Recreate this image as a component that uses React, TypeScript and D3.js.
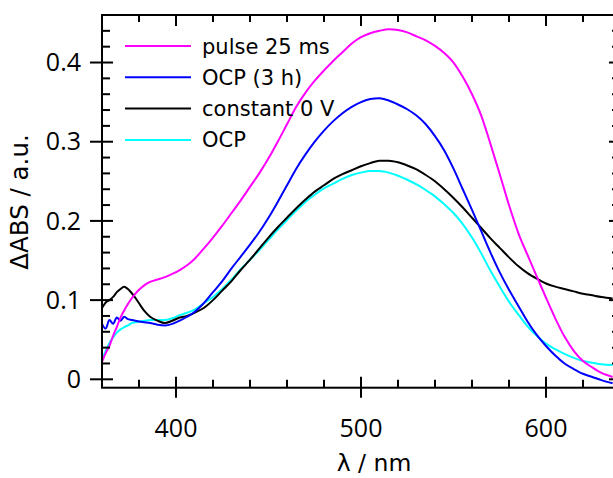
import React, { useEffect, useRef } from "react"
import * as d3 from "d3"

// wavelength grid in nm
const wavelength = [360, 362, 364, 366, 368, 370, 372, 374, 376, 378, 380, 383, 386, 390, 394, 398, 402, 406, 410, 415, 420, 425, 430, 435, 440, 445, 450, 455, 460, 465, 470, 475, 480, 485, 490, 495, 500, 505, 510, 515, 520, 525, 530, 535, 540, 545, 550, 555, 560, 565, 570, 575, 580, 585, 590, 595, 600, 605, 610, 615, 620, 625, 630, 636]

const pulse25 = [0.022, 0.033, 0.042, 0.055, 0.066, 0.078, 0.087, 0.095, 0.102, 0.108, 0.113, 0.119, 0.123, 0.126, 0.129, 0.133, 0.138, 0.144, 0.152, 0.165, 0.179, 0.194, 0.21, 0.226, 0.243, 0.26, 0.279, 0.3, 0.322, 0.344, 0.362, 0.377, 0.39, 0.402, 0.413, 0.424, 0.432, 0.437, 0.44, 0.442, 0.441, 0.438, 0.433, 0.428, 0.421, 0.412, 0.4, 0.382, 0.36, 0.333, 0.297, 0.259, 0.22, 0.185, 0.157, 0.13, 0.103, 0.077, 0.054, 0.036, 0.023, 0.015, 0.008, 0.003]

const ocp3h = [0.07, 0.064, 0.075, 0.07, 0.078, 0.074, 0.079, 0.076, 0.075, 0.074, 0.073, 0.072, 0.071, 0.069, 0.068, 0.07, 0.074, 0.079, 0.085, 0.096, 0.11, 0.124, 0.14, 0.155, 0.17, 0.186, 0.204, 0.224, 0.245, 0.266, 0.284, 0.3, 0.314, 0.326, 0.336, 0.344, 0.35, 0.354, 0.355, 0.352, 0.347, 0.341, 0.333, 0.322, 0.307, 0.289, 0.266, 0.24, 0.214, 0.187, 0.16, 0.135, 0.113, 0.093, 0.073, 0.056, 0.042, 0.03, 0.02, 0.013, 0.007, 0.003, -0.001, -0.005]

const constant0V = [0.09, 0.097, 0.1, 0.104, 0.11, 0.114, 0.117, 0.114, 0.109, 0.103, 0.096, 0.086, 0.079, 0.074, 0.071, 0.074, 0.078, 0.08, 0.084, 0.09, 0.1, 0.112, 0.124, 0.138, 0.151, 0.165, 0.179, 0.192, 0.204, 0.216, 0.227, 0.237, 0.245, 0.253, 0.259, 0.264, 0.269, 0.273, 0.276, 0.276, 0.274, 0.27, 0.265, 0.258, 0.25, 0.24, 0.229, 0.217, 0.204, 0.191, 0.178, 0.166, 0.154, 0.143, 0.134, 0.127, 0.121, 0.117, 0.114, 0.111, 0.108, 0.106, 0.104, 0.102]

const ocp = [0.025, 0.036, 0.046, 0.053, 0.059, 0.063, 0.066, 0.068, 0.071, 0.072, 0.073, 0.074, 0.075, 0.075, 0.075, 0.077, 0.081, 0.084, 0.088, 0.096, 0.104, 0.114, 0.126, 0.139, 0.151, 0.163, 0.176, 0.189, 0.201, 0.213, 0.224, 0.233, 0.241, 0.247, 0.253, 0.258, 0.261, 0.263, 0.263, 0.261, 0.257, 0.252, 0.246, 0.239, 0.231, 0.221, 0.21, 0.196, 0.179, 0.159, 0.137, 0.117, 0.098, 0.082, 0.067, 0.055, 0.045, 0.038, 0.032, 0.027, 0.023, 0.021, 0.019, 0.018]

const seriesNames = ["pulse 25 ms", "OCP (3 h)", "constant 0 V", "OCP"]
const seriesValues = [pulse25, ocp3h, constant0V, ocp]
const seriesColors = ["#ff00ff", "#0000ff", "#000000", "#00ffff"]

const xTicks = [400, 500, 600]
const yTicks = [0, 0.1, 0.2, 0.3, 0.4]

const W = 613
const H = 478
const TICKFONT = "'Open Sans', 'DejaVu Sans', sans-serif"
const FONT = "'DejaVu Sans', sans-serif"

export default function App() {
  const ref = useRef<SVGSVGElement>(null)

  useEffect(() => {
    const svg = d3.select(ref.current)
    svg.selectAll("*").remove()

    const left = 102, right = 620, top = 15, bottom = 387.7
    const x = d3.scaleLinear().domain([360, 640]).range([left, right])
    const y = d3.scaleLinear().domain([-0.0106, 0.46]).range([bottom, top])

    svg.append("defs").append("clipPath").attr("id", "plot")
      .append("rect").attr("x", left).attr("y", top)
      .attr("width", right - left).attr("height", bottom - top)

    // curves, drawn back to front
    const line = d3.line<number>()
      .x((d, i) => x(wavelength[i]))
      .y(d => y(d))
      .curve(d3.curveMonotoneX)
    const g = svg.append("g").attr("clip-path", "url(#plot)")
    const order = [3, 2, 1, 0]
    order.forEach(k => {
      g.append("path")
        .attr("d", line(seriesValues[k]))
        .attr("fill", "none")
        .attr("stroke", seriesColors[k])
        .attr("stroke-width", 2)
    })

    // frame
    svg.append("rect")
      .attr("x", left).attr("y", top)
      .attr("width", right - left).attr("height", bottom - top)
      .attr("fill", "none").attr("stroke", "#000").attr("stroke-width", 2)

    const ticks = svg.append("g").attr("stroke", "#000").attr("stroke-width", 2)
    const xMinor = d3.range(360, 641, 20).filter(v => !xTicks.includes(v))
    const yMinor = d3.range(0, 0.461, 0.02).filter(v => !yTicks.some(t => Math.abs(t - v) < 1e-6))

    xMinor.forEach(v => {
      ticks.append("line").attr("x1", x(v)).attr("x2", x(v)).attr("y1", bottom).attr("y2", bottom - 8)
      ticks.append("line").attr("x1", x(v)).attr("x2", x(v)).attr("y1", top).attr("y2", top + 7)
    })
    xTicks.forEach(v => {
      ticks.append("line").attr("x1", x(v)).attr("x2", x(v)).attr("y1", bottom + 10).attr("y2", bottom - 11)
      ticks.append("line").attr("x1", x(v)).attr("x2", x(v)).attr("y1", top).attr("y2", top + 11)
    })
    yMinor.forEach(v => {
      ticks.append("line").attr("x1", left).attr("x2", left + 8).attr("y1", y(v)).attr("y2", y(v))
      ticks.append("line").attr("x1", right).attr("x2", right - 8).attr("y1", y(v)).attr("y2", y(v))
    })
    yTicks.forEach(v => {
      ticks.append("line").attr("x1", left - 12).attr("x2", left + 11).attr("y1", y(v)).attr("y2", y(v))
      ticks.append("line").attr("x1", right).attr("x2", right - 11).attr("y1", y(v)).attr("y2", y(v))
    })

    // tick labels
    svg.append("g").selectAll("text").data(xTicks).enter().append("text")
      .attr("x", d => x(d)).attr("y", 437)
      .attr("text-anchor", "middle")
      .attr("font-family", TICKFONT).attr("font-size", 25)
      .text(d => d)
    svg.append("g").selectAll("text").data(yTicks).enter().append("text")
      .attr("x", 81).attr("y", d => y(d))
      .attr("dy", "0.35em")
      .attr("text-anchor", "end")
      .attr("font-family", TICKFONT).attr("font-size", 25)
      .text(d => (d === 0 ? "0" : d3.format(".1f")(d)))

    // axis titles
    svg.append("text")
      .attr("x", 374).attr("y", 471)
      .attr("text-anchor", "middle")
      .attr("font-family", FONT).attr("font-size", 23.5)
      .text("λ / nm")
    svg.append("text")
      .attr("transform", "translate(28,202) rotate(-90)")
      .attr("text-anchor", "middle")
      .attr("font-family", FONT).attr("font-size", 24.5)
      .text("ΔABS / a.u.")

    // legend
    const legend = svg.append("g")
    seriesNames.forEach((name, i) => {
      const ly = 46 + i * 31.3
      legend.append("line")
        .attr("x1", 125).attr("x2", 191).attr("y1", ly).attr("y2", ly)
        .attr("stroke", seriesColors[i]).attr("stroke-width", 2)
      legend.append("text")
        .attr("x", 202).attr("y", ly).attr("dy", "0.36em")
        .attr("font-family", FONT).attr("font-size", 21)
        .text(name)
    })
  }, [])

  return (
    <svg ref={ref} width={W} height={H}
      style={{ position: "absolute", left: 0, top: 0, background: "#fff" }} />
  )
}
